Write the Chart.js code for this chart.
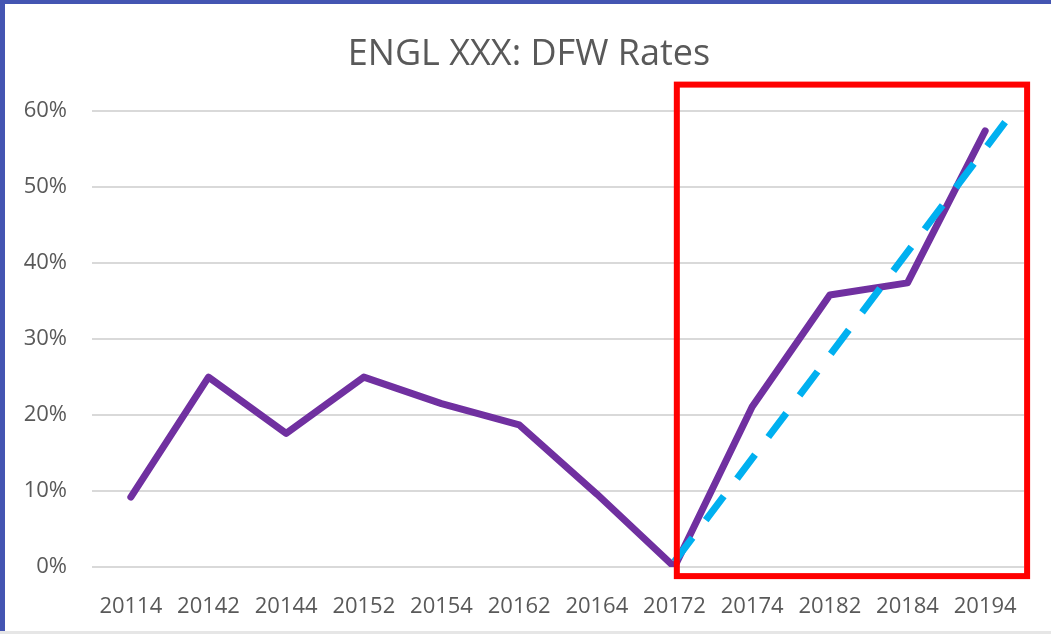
<!DOCTYPE html>
<html>
<head>
<meta charset="utf-8">
<script src="https://cdn.jsdelivr.net/npm/chart.js@4"></script>
<style>
  html, body { margin: 0; padding: 0; background: #fff; }
  #wrap { position: relative; width: 1051px; height: 634px; overflow: hidden; }
  #wrap canvas { position: absolute; left: 0; top: 0; }
  .frame-left { position: absolute; left: 0; top: 0; width: 5px; height: 634px; background: #4455b2; }
  .frame-top { position: absolute; left: 0; top: 0; width: 1051px; height: 4px; background: #4455b2; }
  .frame-bottom { position: absolute; left: 0; bottom: 0; width: 1051px; height: 3px; background: #e6e6e6; }
</style>
</head>
<body>
<div id="wrap">
  <canvas id="grafico" width="1051" height="634"></canvas>
  <div class="frame-left"></div>
  <div class="frame-top"></div>
  <div class="frame-bottom"></div>
</div>
<script>
// termos (eixo x)
const termos = ['20114', '20142', '20144', '20152', '20154', '20162', '20164', '20172', '20174', '20182', '20184', '20194'];
// taxa DFW em %
const taxasDfw = [9.2, 25.0, 17.6, 25.0, 21.5, 18.7, 9.6, 0.0, 21.1, 35.8, 37.4, 57.4];
// linha de tendencia (inicio em 20172, projetada um pouco alem de 20194)
const tendenciaX = [7, 11.4];
const tendenciaY = [0.7, 60.5];
// ticks do eixo y
const ticksY = [0, 10, 20, 30, 40, 50, 60];

const corTexto = '#595959';
const fonte = '"Open Sans", "Liberation Sans", sans-serif';

// retangulo vermelho em volta do periodo destacado
const destaque = {
    id: 'destaque',
    afterDatasetsDraw(chart) {
        const x = chart.scales.x, y = chart.scales.y;
        const ctx = chart.ctx;
        const esq = x.getPixelForValue(7.03);
        const dir = x.getPixelForValue(11.54);
        const topo = y.getPixelForValue(63.5);
        const base = y.getPixelForValue(-1.2);
        ctx.save();
        ctx.strokeStyle = '#ff0000';
        ctx.lineWidth = 6;
        ctx.strokeRect(esq, topo, dir - esq, base - topo);
        ctx.restore();
    }
};

new Chart(document.getElementById('grafico'), {
    type: 'line',
    data: {
        datasets: [{
            label: 'DFW',
            data: taxasDfw.map((v, i) => ({ x: i, y: v })),
            borderColor: '#7030a0',
            borderWidth: 7,
            borderCapStyle: 'round',
            borderJoinStyle: 'round',
            pointRadius: 0,
            tension: 0,
            order: 2
        }, {
            label: 'Tendência',
            data: tendenciaX.map((v, i) => ({ x: v, y: tendenciaY[i] })),
            borderColor: '#00b0f0',
            borderWidth: 7,
            borderDash: [30, 22],
            borderCapStyle: 'butt',
            pointRadius: 0,
            clip: false,
            order: 1
        }]
    },
    options: {
        responsive: false,
        animation: false,
        layout: { padding: { left: 7, right: 0, top: 0, bottom: 0 } },
        plugins: {
            legend: { display: false },
            tooltip: { enabled: false },
            title: {
                display: true,
                text: 'ENGL XXX: DFW Rates',
                color: corTexto,
                font: { family: fonte, size: 36, weight: 'normal' },
                padding: { top: 33, bottom: 35 }
            }
        },
        scales: {
            x: {
                type: 'linear',
                min: -0.5,
                max: 11.5,
                afterBuildTicks(scale) {
                    scale.ticks = termos.map((t, i) => ({ value: i }));
                },
                afterFit(scale) { scale.height = 67; },
                ticks: {
                    callback: v => termos[v],
                    color: corTexto,
                    font: { family: fonte, size: 22 },
                    padding: 19,
                    maxRotation: 0,
                    autoSkip: false
                },
                grid: { display: false },
                border: { display: false }
            },
            y: {
                min: 0,
                max: 60,
                afterBuildTicks(scale) {
                    scale.ticks = ticksY.map(v => ({ value: v }));
                },
                afterFit(scale) { scale.width = 85; },
                ticks: {
                    callback: v => v + '%',
                    color: corTexto,
                    font: { family: fonte, size: 22 },
                    padding: 25
                },
                grid: { color: '#d9d9d9', lineWidth: 2, drawTicks: false },
                border: { display: false }
            },
            // eixo vazio so para reservar a margem direita
            margemDir: {
                position: 'right',
                min: 0,
                max: 60,
                afterFit(scale) { scale.width = 27; },
                ticks: { display: false },
                grid: { display: false },
                border: { display: false }
            }
        }
    },
    plugins: [destaque]
});
</script>
</body>
</html>
